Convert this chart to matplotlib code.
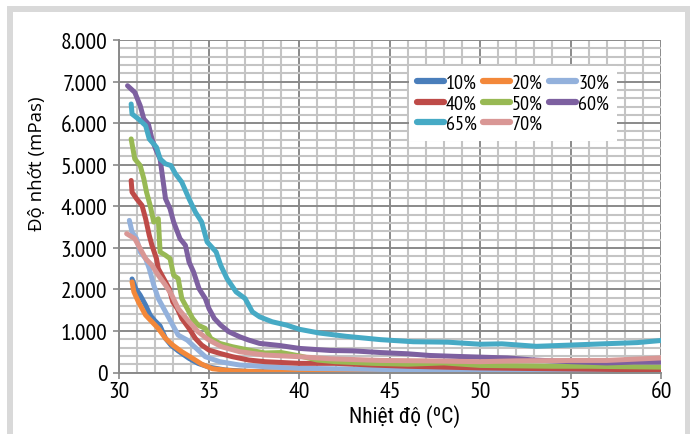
""" Viscosity vs temperature chart """

import matplotlib
matplotlib.use("Agg")
import matplotlib.pyplot as plt
from matplotlib.patches import Rectangle
from matplotlib.ticker import MultipleLocator, FuncFormatter
from matplotlib import font_manager

labels = ["10%", "20%", "30%", "40%", "50%", "60%", "65%", "70%"]
colors = ["#4a7ebb", "#f3883a", "#93b1dc", "#be4b48", "#98b954",
          "#7d60a0", "#46aac5", "#d99795"]

x10 = [30.75, 30.95, 31.2, 31.5, 31.75, 32.0, 32.3, 32.6, 32.9, 33.3, 33.9,
       34.4, 35.0, 35.9, 37.2, 38.5, 40, 45, 50, 55, 60]
y10 = [2250, 2020, 1860, 1620, 1380, 1250, 1120, 820, 660, 520, 340,
       220, 130, 60, 25, 10, 5, 0, 0, 0, 0]

x20 = [30.75, 30.85, 31.1, 31.5, 31.85, 32.2, 32.6, 33.0, 33.5, 34.1, 34.6,
       35.2, 36.3, 38.1, 40, 45, 50, 55, 60]
y20 = [2180, 1940, 1700, 1380, 1220, 1060, 820, 660, 500, 340, 200,
       90, 40, 15, 5, 0, 0, 0, 0]

x30 = [30.6, 30.75, 31.0, 31.2, 31.5, 31.7, 31.95, 32.2, 32.6, 33.0, 33.3,
       33.8, 34.3, 34.8, 35.6, 36.7, 38.1, 40, 42, 45, 48, 50, 53, 55, 58, 60]
y30 = [3660, 3380, 3220, 2900, 2740, 2500, 2100, 1780, 1460, 1140, 900,
       780, 580, 380, 260, 180, 140, 100, 90, 70, 60, 50, 45, 40, 35, 30]

x40 = [30.7, 30.75, 31.0, 31.3, 31.5, 31.7, 31.85, 32.1, 32.2, 32.5, 32.8,
       33.0, 33.25, 33.5, 33.9, 34.25, 34.6, 35.0, 35.6, 36.3, 37.2, 38.1,
       40, 42, 44, 46, 48, 50, 52, 54, 56, 58, 60]
y40 = [4620, 4340, 4180, 4020, 3700, 3300, 3060, 2740, 2500, 2260, 2020,
       1700, 1540, 1300, 1060, 820, 660, 540, 460, 380, 300, 260,
       220, 220, 180, 150, 130, 110, 100, 90, 80, 70, 70]

x50 = [30.7, 30.9, 31.2, 31.4, 31.55, 31.75, 31.95, 32.2, 32.3, 32.6, 32.85,
       33.05, 33.3, 33.5, 33.8, 34.1, 34.4, 34.8, 35.1, 35.6, 36.3, 37.2,
       38.1, 39, 40, 41, 42, 44, 46, 48, 50, 52, 54, 56, 58, 60]
y50 = [5620, 5140, 4980, 4660, 4340, 4020, 3620, 3700, 2900, 2820, 2740,
       2340, 2260, 1780, 1540, 1300, 1140, 1060, 820, 700, 620, 540,
       470, 480, 400, 300, 260, 220, 200, 230, 170, 160, 150, 150, 140, 130]

x60 = [30.5, 30.9, 31.2, 31.4, 31.65, 31.85, 32.05, 32.3, 32.4, 32.6, 32.85,
       33.05, 33.4, 33.7, 33.9, 34.15, 34.45, 34.8, 35.0, 35.3, 35.65, 36.1,
       36.7, 37.2, 37.8, 38.9, 40, 41.7, 43, 44.5, 46, 47.2, 48.5, 50, 51.5,
       53, 55, 57, 58.5, 60]
y60 = [6900, 6740, 6420, 6100, 5980, 5620, 5380, 5140, 4820, 4180, 3940,
       3620, 3220, 3060, 2660, 2420, 2020, 1780, 1540, 1300, 1140, 980,
       860, 780, 700, 650, 580, 530, 520, 480, 450, 410, 390, 370, 350,
       300, 260, 230, 250, 250]

x65 = [30.7, 30.75, 31.1, 31.5, 31.7, 32.1, 32.3, 32.6, 32.9, 33.15, 33.5,
       33.9, 34.25, 34.6, 34.9, 35.4, 35.65, 36.0, 36.5, 37.0, 37.4, 37.8,
       38.5, 39.3, 40, 41.1, 42.6, 44.5, 46.3, 48.2, 50, 51.2, 53.1, 55,
       56.8, 58.7, 60]
y65 = [6460, 6220, 6100, 5940, 5620, 5420, 5140, 5020, 4980, 4780, 4580,
       4180, 3860, 3620, 3140, 2900, 2580, 2260, 1940, 1780, 1460, 1340,
       1220, 1140, 1040, 950, 870, 790, 740, 730, 680, 690, 630, 660,
       690, 720, 770]

x70 = [30.45, 30.9, 31.2, 31.5, 31.85, 32.2, 32.6, 32.95, 33.3, 33.9, 34.4,
       35.0, 35.7, 36.7, 38.1, 40, 41.7, 44.5, 47, 50, 52, 55, 57, 59, 60]
y70 = [3340, 3220, 2980, 2740, 2580, 2340, 2100, 1860, 1540, 1220, 980,
       780, 620, 500, 420, 380, 330, 290, 280, 260, 280, 290, 290, 330, 350]

xs = [x10, x20, x30, x40, x50, x60, x65, x70]
ys = [y10, y20, y30, y40, y50, y60, y65, y70]


def pick_font(names):
    """ first installed family of a list """
    have = set(f.name for f in font_manager.fontManager.ttflist)
    for name in names:
        if name in have:
            return name
    return "DejaVu Sans"


def main():
    narrow = pick_font(["PT Sans Narrow", "Roboto Condensed", "Archivo Narrow"])
    viet = [pick_font(["Roboto Condensed", "Archivo Narrow"]), "DejaVu Sans"]
    fig = plt.figure(figsize=(6.9, 4.35), dpi=100)
    fig.patches.append(Rectangle((10 / 690, -0.1), 678 / 690, 1.1 - 10 / 435,
                                 transform=fig.transFigure, fill=False,
                                 edgecolor="#d9d9d9", linewidth=4.3))
    ax = fig.add_axes([118.5 / 690, 61.5 / 435, 542.5 / 690, 332.5 / 435])
    lines = draw_lines(ax)
    style_axes(ax, narrow, viet)
    draw_legend(ax, lines, narrow)
    fig.savefig("out.png", dpi=100)


def draw_lines(ax):
    """ one line per concentration """
    lines = []
    for x, y, lab, col in zip(xs, ys, labels, colors):
        ln, = ax.plot(x, y, color=col, linewidth=3.6, label=lab,
                      solid_joinstyle="round", solid_capstyle="round")
        lines.append(ln)
    return lines


def style_axes(ax, narrow, viet):
    """ grid, ticks and labels """
    ax.set_xlim(30, 60)
    ax.set_ylim(0, 8000)
    ax.xaxis.set_major_locator(MultipleLocator(5))
    ax.xaxis.set_minor_locator(MultipleLocator(1))
    ax.yaxis.set_major_locator(MultipleLocator(1000))
    ax.yaxis.set_minor_locator(MultipleLocator(200))
    ax.yaxis.set_major_formatter(
        FuncFormatter(lambda v, p: f"{int(v):,}".replace(",", ".")))
    ax.grid(which="minor", color="#c4c4c4", linewidth=1.5, zorder=0)
    ax.grid(which="major", color="#8a8a8a", linewidth=1.4, zorder=0)
    ax.set_axisbelow(True)
    for side in ["top", "right"]:
        ax.spines[side].set_visible(False)
    for side in ["left", "bottom"]:
        ax.spines[side].set_color("#8a8a8a")
        ax.spines[side].set_linewidth(1.4)
    ax.tick_params(which="minor", length=0)
    ax.tick_params(which="major", length=4, width=1.2, color="#8a8a8a",
                   labelsize=17, pad=2)
    ax.tick_params(axis="y", pad=4)
    for lab in ax.get_xticklabels() + ax.get_yticklabels():
        lab.set_family(narrow)
    ax.set_ylabel("Độ nhớt (mPas)", fontsize=13.5, family="Open Sans")
    ax.yaxis.set_label_coords(-0.134, 0.63)
    ax.set_xlabel("Nhiệt độ (ºC)", fontsize=15.5, family=viet)
    ax.xaxis.set_label_coords(0.528, -0.095)


def draw_legend(ax, lines, narrow):
    """ legend in rows of three """
    order = [0, 3, 6, 1, 4, 7, 2, 5]
    leg = ax.legend([lines[i] for i in order], [labels[i] for i in order],
                    ncol=3, loc="upper left", bbox_to_anchor=(0.535, 0.922),
                    borderaxespad=0, frameon=True, fancybox=False,
                    framealpha=1, edgecolor="none", facecolor="white",
                    handlelength=1.35, handletextpad=0.1, columnspacing=0.3,
                    labelspacing=0.12, borderpad=0.4,
                    prop={"family": narrow, "size": 14.5})
    for ln in leg.get_lines():
        ln.set_linewidth(4.5)


if __name__ == "__main__":
    main()
